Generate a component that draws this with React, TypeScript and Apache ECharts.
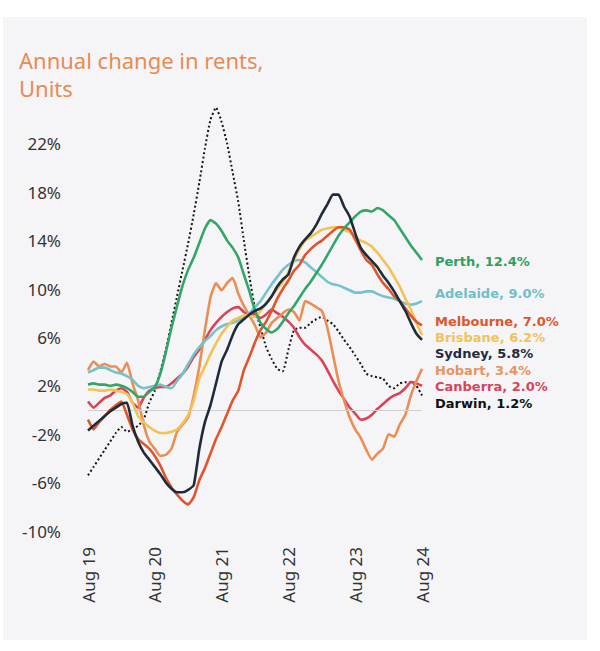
import React, { useEffect, useRef } from "react";
import * as echarts from "echarts";

const monthNames = ["Jan","Feb","Mar","Apr","May","Jun","Jul","Aug","Sep","Oct","Nov","Dec"];
// monthly categories Aug 2019 .. Aug 2024
const categories: string[] = [];
for (let k = 0; k <= 60; k++) {
  const m = (7 + k) % 12;
  const y = 19 + Math.floor((7 + k) / 12);
  categories.push(`${monthNames[m]} ${y}`);
}

const darwin = [-5.4,-4.7,-4.0,-3.3,-2.6,-1.9,-1.4,-1.8,-1.6,-1.3,-0.8,0.6,1.6,3.2,5.0,7.2,9.4,11.6,13.8,16.2,18.8,21.6,24.0,25.0,23.8,22.0,19.6,17.2,14.0,11.0,8.4,6.8,5.2,4.2,3.4,3.2,5.0,6.6,6.8,6.8,7.2,7.5,7.7,7.4,7.1,6.5,5.8,5.2,4.5,3.8,3.0,2.8,2.7,2.6,2.0,1.8,2.2,2.3,2.3,2.0,1.2];
const perth = [2.1,2.2,2.1,2.1,2.0,2.1,2.0,1.8,1.5,1.1,1.1,1.5,1.9,3.0,4.8,6.8,8.6,10.3,11.6,12.6,13.8,15.0,15.7,15.4,14.8,14.0,13.4,12.6,11.2,9.8,8.2,7.2,6.7,6.4,6.7,7.3,8.0,8.6,9.3,10.0,10.6,11.3,12.0,12.8,13.6,14.4,15.0,15.5,16.0,16.4,16.5,16.4,16.7,16.5,16.1,15.7,15.0,14.3,13.6,13.0,12.4];
const adelaide = [3.1,3.3,3.5,3.5,3.3,3.1,3.0,2.8,2.5,2.0,1.8,1.9,2.0,2.1,1.9,1.8,2.4,3.0,3.8,4.6,5.2,5.7,6.1,6.6,6.9,7.1,7.2,7.4,7.7,8.0,8.5,9.0,9.7,10.4,11.0,11.6,12.0,12.3,12.4,12.2,11.8,11.4,11.0,10.6,10.4,10.3,10.1,9.9,9.7,9.7,9.8,9.8,9.6,9.4,9.3,9.2,9.0,8.8,8.7,8.8,9.0];
const melbourne = [-0.8,-1.6,-1.0,-0.5,0.0,0.4,0.7,-0.4,-1.6,-2.4,-2.8,-3.2,-3.8,-4.6,-5.6,-6.4,-7.0,-7.5,-7.8,-7.2,-5.8,-4.8,-3.6,-2.4,-1.4,-0.3,0.8,1.6,3.3,4.4,5.6,6.6,7.3,8.2,9.2,10.0,10.7,11.5,12.0,12.8,13.3,13.7,14.0,14.4,14.8,15.1,15.1,14.9,14.1,13.2,12.4,12.0,11.2,10.5,10.0,9.4,9.0,8.4,7.8,7.3,7.0];
const brisbane = [1.7,1.7,1.6,1.6,1.7,1.6,1.5,1.3,0.6,-0.5,-1.0,-1.4,-1.7,-1.9,-1.9,-1.8,-1.6,-1.1,-0.4,0.8,2.6,3.6,4.6,5.5,6.3,6.9,7.4,7.6,7.8,7.8,7.7,8.2,8.8,9.4,10.0,10.6,11.4,12.4,13.3,14.0,14.3,14.6,14.9,15.0,15.1,15.1,14.9,14.7,14.3,14.0,13.8,13.5,13.0,12.4,11.8,11.0,10.2,9.2,8.3,7.2,6.2];
const sydney = [-1.7,-1.3,-0.9,-0.5,-0.1,0.2,0.5,0.6,-1.3,-2.6,-3.5,-4.1,-4.7,-5.3,-6.0,-6.5,-6.8,-6.8,-6.6,-6.2,-3.2,-1.0,0.4,2.2,4.0,5.0,6.2,7.1,7.5,7.9,8.2,8.4,8.8,9.4,10.2,10.8,11.2,12.6,13.5,14.1,14.6,15.3,16.2,17.0,17.8,17.8,16.8,16.0,14.6,13.4,12.8,12.3,11.8,11.1,10.5,9.8,9.0,8.2,7.2,6.3,5.8];
const hobart = [3.3,4.0,3.6,3.8,3.6,3.6,3.1,3.9,2.2,0.8,-1.2,-2.6,-3.2,-3.8,-3.7,-3.2,-1.8,-1.2,-0.6,1.2,3.6,6.6,9.3,10.5,9.9,10.5,10.9,9.6,8.6,7.8,7.0,6.0,6.4,7.2,7.6,8.0,8.3,8.1,7.4,9.0,8.8,8.5,8.2,6.8,4.6,2.4,0.8,-0.6,-1.6,-2.3,-3.3,-4.1,-3.6,-3.2,-2.0,-2.2,-1.2,-0.4,1.2,2.4,3.4];
const canberra = [0.7,0.2,0.6,1.0,1.2,1.6,1.8,1.5,0.6,0.2,1.0,1.6,1.8,1.9,1.9,2.2,2.6,3.0,3.6,4.4,5.0,5.8,6.6,7.2,7.7,8.1,8.4,8.5,8.1,7.9,7.9,7.6,7.9,8.3,8.0,7.7,7.3,6.8,6.0,5.4,5.0,4.6,4.1,3.3,2.4,1.6,0.9,0.2,-0.3,-0.8,-0.7,-0.4,0.1,0.5,0.9,1.2,1.4,1.8,2.3,2.2,2.0];

const endValues = { Perth: 12.4, Adelaide: 9.0, Melbourne: 7.0, Brisbane: 6.2, Sydney: 5.8, Hobart: 3.4, Canberra: 2.0, Darwin: 1.2 };

const FONT = "'Noto Sans', Lato, sans-serif";
const LABEL_FONT = "'DejaVu Sans', 'Noto Sans', sans-serif";

type S = { name: keyof typeof endValues; data: number[]; color: string; labelColor: string; dy: number; dotted?: boolean };

const seriesDefs: S[] = [
  { name: "Darwin", data: darwin, color: "#151515", labelColor: "#111111", dy: 8.5, dotted: true },
  { name: "Canberra", data: canberra, color: "#dc4256", labelColor: "#d9435a", dy: 1 },
  { name: "Hobart", data: hobart, color: "#eb8e55", labelColor: "#e9935e", dy: 1.6 },
  { name: "Adelaide", data: adelaide, color: "#74c2cb", labelColor: "#6fbfc9", dy: -8 },
  { name: "Brisbane", data: brisbane, color: "#f3c255", labelColor: "#f1c25a", dy: 2.5 },
  { name: "Melbourne", data: melbourne, color: "#e0552c", labelColor: "#e0552c", dy: -4 },
  { name: "Perth", data: perth, color: "#33a56a", labelColor: "#2f9e60", dy: 2 },
  { name: "Sydney", data: sydney, color: "#1e2b3b", labelColor: "#1e2b3b", dy: 14 },
];

export default function App() {
  const ref = useRef<HTMLDivElement>(null);
  useEffect(() => {
    if (!ref.current) return;
    const chart = echarts.init(ref.current, undefined, { renderer: "svg" });
    const series: any[] = seriesDefs.map((s, idx) => ({
      type: "line",
      name: s.name,
      data: s.data,
      symbol: "none",
      smooth: 0.15,
      z: 2 + idx,
      lineStyle: {
        color: s.color,
        width: s.dotted ? 2 : 2.6,
        type: s.dotted ? [2, 2.5] : "solid",
      },
      endLabel: {
        show: true,
        formatter: () => `${s.name}, ${endValues[s.name].toFixed(1)}%`,
        color: s.labelColor,
        fontWeight: "bold",
        fontSize: 13,
        lineHeight: 13,
        fontFamily: LABEL_FONT,
        distance: 13,
        offset: [0, s.dy],
      },
      emphasis: { disabled: true },
    }));
    series[0].markLine = {
      silent: true,
      symbol: ["none", "none"],
      label: { show: false },
      lineStyle: { color: "#cfcfcf", width: 1.2, type: "solid" },
      data: [{ yAxis: 0 }],
    };
    chart.setOption({
      animation: false,
      backgroundColor: "transparent",
      title: {
        text: "Annual change in rents,\nUnits",
        left: 14,
        top: 41,
        textStyle: {
          color: "#e98a52",
          fontSize: 22,
          fontWeight: "normal",
          fontFamily: FONT,
          lineHeight: 28,
        },
      },
      grid: { left: 88, right: 178, top: 95.4, bottom: 120 },
      xAxis: {
        type: "category",
        data: categories,
        boundaryGap: false,
        axisLine: { show: false },
        axisTick: { show: false },
        axisLabel: {
          interval: (i: number) => i % 12 === 0,
          formatter: (v: string) => "Aug " + v.split(" ")[1],
          rotate: 90,
          margin: 16,
          fontSize: 17,
          color: "#333333",
          fontFamily: FONT,
        },
        splitLine: { show: false },
      },
      yAxis: {
        type: "value",
        min: -10,
        max: 26,
        interval: 4,
        axisLine: { show: false },
        axisTick: { show: false },
        splitLine: { show: false },
        axisLabel: {
          formatter: (v: number) => (v > 24 ? "" : `${v}%`),
          fontSize: 17,
          color: "#333333",
          margin: 27,
          fontFamily: FONT,
        },
      },
      series,
    });
    return () => chart.dispose();
  }, []);
  return (
    <div style={{ position: "fixed", left: 0, top: 0, width: 600, height: 651, background: "#ffffff" }}>
      <div style={{ position: "absolute", left: 3, top: 17, width: 584, height: 623, background: "#f5f5f7" }} />
      <div ref={ref} style={{ position: "absolute", left: 0, top: 0, width: 600, height: 651 }} />
    </div>
  );
}
